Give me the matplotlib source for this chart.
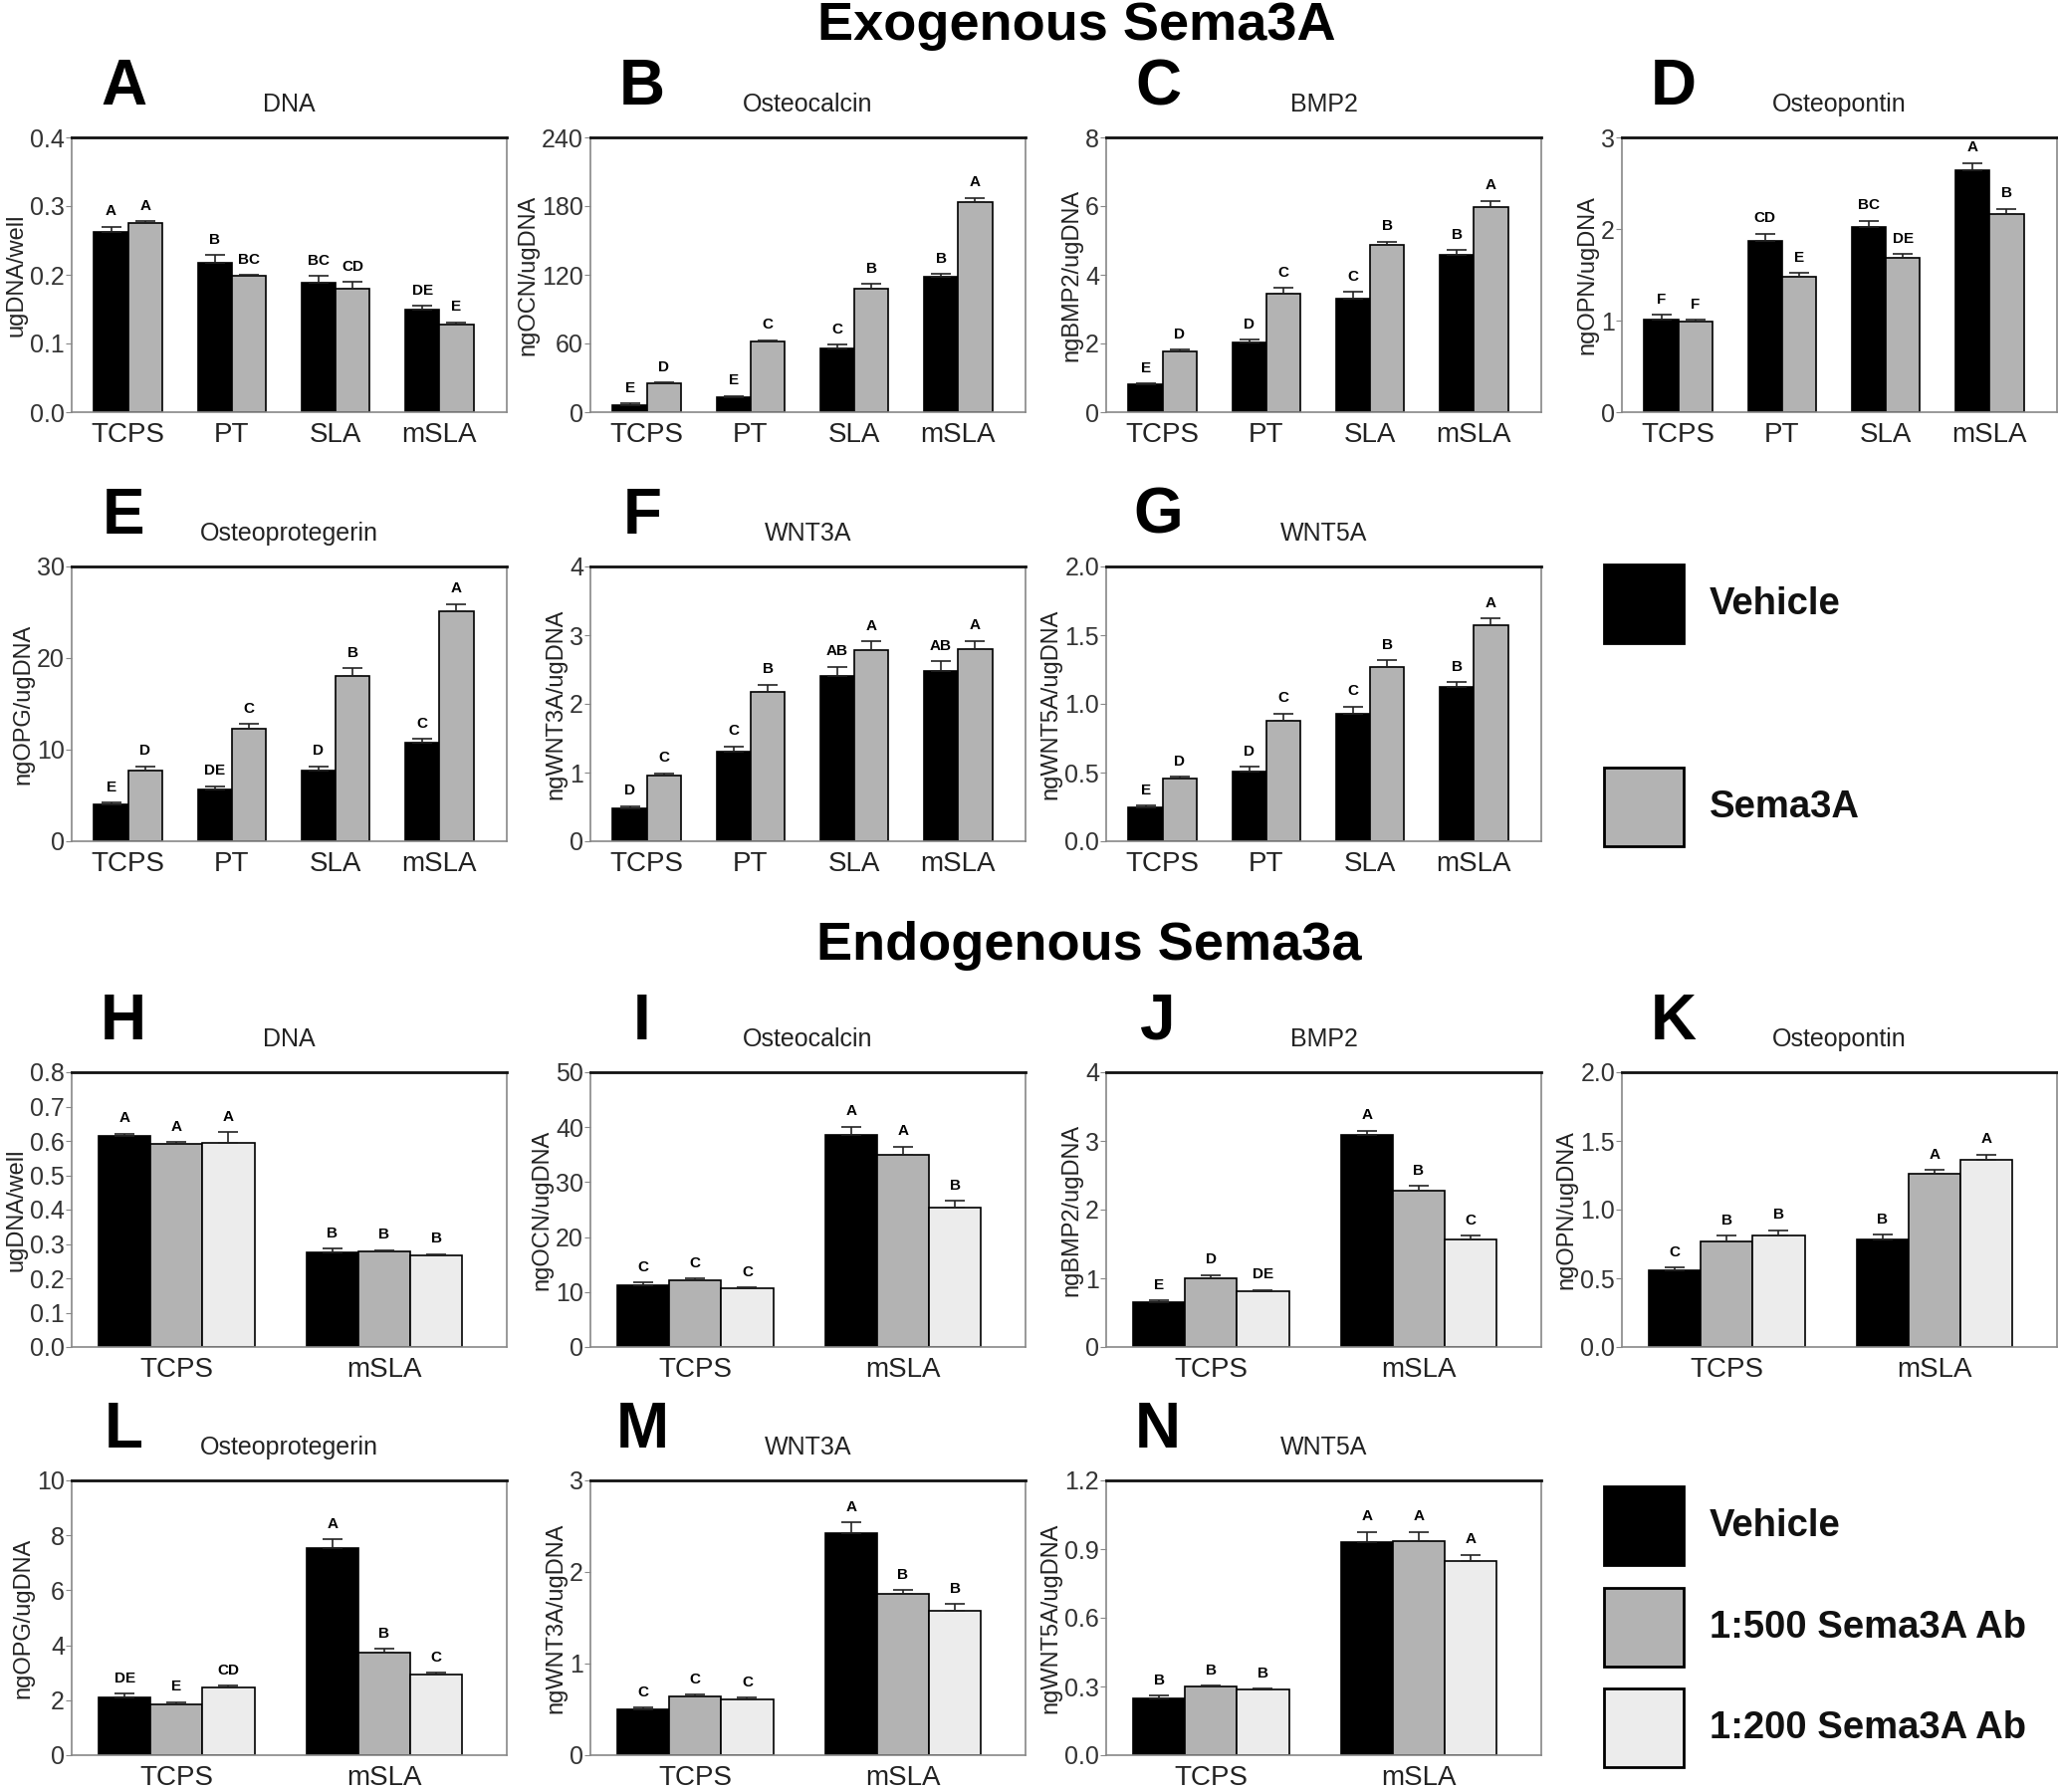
import numpy as np
import matplotlib
matplotlib.use("Agg")
import matplotlib.pyplot as plt
from matplotlib.patches import Rectangle

plt.rcParams['font.family'] = ['Liberation Sans', 'DejaVu Sans']

exo_groups = ["TCPS", "PT", "SLA", "mSLA"]
endo_groups = ["TCPS", "mSLA"]
exo_names = ["Vehicle", "Sema3A"]
endo_names = ["Vehicle", "1:500 Sema3A Ab", "1:200 Sema3A Ab"]

# exogenous panels: rows = vehicle, sema3A
a_vals = [[0.263, 0.217, 0.188, 0.149], [0.276, 0.198, 0.179, 0.128]]
a_errs = [[0.007, 0.012, 0.010, 0.006], [0.002, 0.002, 0.011, 0.003]]
a_sig = [["A", "B", "BC", "DE"], ["A", "BC", "CD", "E"]]

b_vals = [[6.5, 13.2, 55.5, 118.5], [25.5, 61.5, 107.5, 183.5]]
b_errs = [[0.9, 0.9, 3.5, 2.0], [0.6, 1.5, 4.4, 3.8]]
b_sig = [["E", "E", "C", "B"], ["D", "C", "B", "A"]]

c_vals = [[0.80, 2.02, 3.30, 4.57], [1.77, 3.46, 4.87, 5.98]]
c_errs = [[0.03, 0.10, 0.20, 0.15], [0.05, 0.15, 0.10, 0.17]]
c_sig = [["E", "D", "C", "B"], ["D", "C", "B", "A"]]

d_vals = [[1.01, 1.87, 2.02, 2.64], [0.99, 1.48, 1.68, 2.16]]
d_errs = [[0.05, 0.08, 0.07, 0.08], [0.02, 0.04, 0.05, 0.06]]
d_sig = [["F", "CD", "BC", "A"], ["F", "E", "DE", "B"]]

e_vals = [[4.0, 5.7, 7.7, 10.8], [7.7, 12.3, 18.0, 25.1]]
e_errs = [[0.2, 0.3, 0.5, 0.4], [0.5, 0.5, 0.9, 0.8]]
e_sig = [["E", "DE", "D", "C"], ["D", "C", "B", "A"]]

f_vals = [[0.48, 1.30, 2.40, 2.48], [0.96, 2.17, 2.78, 2.80]]
f_errs = [[0.03, 0.08, 0.14, 0.14], [0.03, 0.11, 0.13, 0.12]]
f_sig = [["D", "C", "AB", "AB"], ["C", "B", "A", "A"]]

g_vals = [[0.25, 0.51, 0.93, 1.12], [0.46, 0.88, 1.27, 1.57]]
g_errs = [[0.01, 0.03, 0.05, 0.04], [0.01, 0.05, 0.05, 0.05]]
g_sig = [["E", "D", "C", "B"], ["D", "C", "B", "A"]]

# endogenous panels: rows = vehicle, 1:500 Ab, 1:200 Ab
h_vals = [[0.615, 0.275], [0.592, 0.277], [0.595, 0.266]]
h_errs = [[0.006, 0.012], [0.004, 0.005], [0.030, 0.005]]
h_sig = [["A", "B"], ["A", "B"], ["A", "B"]]

i_vals = [[11.3, 38.6], [12.2, 35.0], [10.6, 25.4]]
i_errs = [[0.4, 1.5], [0.3, 1.5], [0.2, 1.2]]
i_sig = [["C", "A"], ["C", "A"], ["C", "B"]]

j_vals = [[0.65, 3.08], [1.00, 2.27], [0.81, 1.57]]
j_errs = [[0.03, 0.07], [0.05, 0.08], [0.02, 0.05]]
j_sig = [["E", "A"], ["D", "B"], ["DE", "C"]]

k_vals = [[0.56, 0.78], [0.77, 1.26], [0.81, 1.36]]
k_errs = [[0.02, 0.04], [0.04, 0.03], [0.04, 0.04]]
k_sig = [["C", "B"], ["B", "A"], ["B", "A"]]

l_vals = [[2.10, 7.55], [1.85, 3.72], [2.45, 2.95]]
l_errs = [[0.15, 0.30], [0.08, 0.15], [0.07, 0.06]]
l_sig = [["DE", "A"], ["E", "B"], ["CD", "C"]]

m_vals = [[0.50, 2.42], [0.64, 1.76], [0.61, 1.58]]
m_errs = [[0.02, 0.12], [0.02, 0.04], [0.02, 0.07]]
m_sig = [["C", "A"], ["C", "B"], ["C", "B"]]

n_vals = [[0.25, 0.93], [0.30, 0.935], [0.285, 0.85]]
n_errs = [[0.01, 0.045], [0.005, 0.04], [0.005, 0.025]]
n_sig = [["B", "A"], ["B", "A"], ["B", "A"]]

colors = ["#000000", "#b3b3b3", "#ececec"]

W, H = 2067, 1800
fig = plt.figure(figsize=(W / 100, H / 100), dpi=100)

col_left = [72, 593, 1111, 1629]
row_top = [138, 569, 1077, 1487]
ax_w, ax_h = 437, 276


def ftext(x, y, s, **kw):
    fig.text(x / W, 1 - y / H, s, **kw)


def panel(col, row, letter, title, ylabel, groups, vals, errs, sig, ymax, ystep, fmt):
    left, top = col_left[col], row_top[row]
    ax = fig.add_axes([left / W, 1 - (top + ax_h) / H, ax_w / W, ax_h / H])
    n = len(vals)
    x = np.arange(len(groups))
    if n == 2:
        width = 0.33
        ax.set_xlim(-0.545, len(groups) - 0.35)
    else:
        width = 0.25
        ax.set_xlim(-0.505, len(groups) - 0.41)
    for i in range(n):
        pos = x + (i - (n - 1) / 2) * width
        ax.bar(pos, vals[i], width, color=colors[i], edgecolor="black",
               linewidth=1.2, zorder=2)
        ax.errorbar(pos, vals[i], yerr=[np.zeros(len(groups)), errs[i]],
                    fmt="none", ecolor="#222222", elinewidth=1.2, capsize=7,
                    capthick=1.2, zorder=3)
        for p, v, e, s in zip(pos, vals[i], errs[i], sig[i]):
            ax.annotate(s, (p, v + e), xytext=(0, 6), textcoords="offset points",
                        ha="center", va="bottom", fontsize=11, fontweight="bold")
    ax.set_ylim(0, ymax)
    ticks = np.arange(0, ymax + ystep / 2, ystep)
    ax.set_yticks(ticks)
    ax.set_yticklabels([fmt.format(t) for t in ticks])
    ax.set_xticks(x)
    ax.set_xticklabels(groups)
    ax.tick_params(axis="y", direction="out", length=4, color="#888888",
                   labelsize=18, labelcolor="#333333", pad=1)
    ax.tick_params(axis="x", length=0, labelsize=20, labelcolor="#222222", pad=7)
    ax.set_ylabel(ylabel, fontsize=17, color="#222222", labelpad=2)
    for side in ["left", "bottom", "right"]:
        ax.spines[side].set_color("#888888")
        ax.spines[side].set_linewidth(1.2)
    ax.spines["top"].set_color("#111111")
    ax.spines["top"].set_linewidth(2)
    ftext(left + 52, top - 50, letter, fontsize=46, fontweight="bold",
          ha="center", va="center")
    ftext(left + ax_w / 2, top - 33, title, fontsize=18, ha="center", va="center",
          color="#222222")
    return ax


panel(0, 0, "A", "DNA", "ugDNA/well", exo_groups, a_vals, a_errs, a_sig, 0.4, 0.1, "{:.1f}")
panel(1, 0, "B", "Osteocalcin", "ngOCN/ugDNA", exo_groups, b_vals, b_errs, b_sig, 240, 60, "{:.0f}")
panel(2, 0, "C", "BMP2", "ngBMP2/ugDNA", exo_groups, c_vals, c_errs, c_sig, 8, 2, "{:.0f}")
panel(3, 0, "D", "Osteopontin", "ngOPN/ugDNA", exo_groups, d_vals, d_errs, d_sig, 3, 1, "{:.0f}")
panel(0, 1, "E", "Osteoprotegerin", "ngOPG/ugDNA", exo_groups, e_vals, e_errs, e_sig, 30, 10, "{:.0f}")
panel(1, 1, "F", "WNT3A", "ngWNT3A/ugDNA", exo_groups, f_vals, f_errs, f_sig, 4, 1, "{:.0f}")
panel(2, 1, "G", "WNT5A", "ngWNT5A/ugDNA", exo_groups, g_vals, g_errs, g_sig, 2.0, 0.5, "{:.1f}")

panel(0, 2, "H", "DNA", "ugDNA/well", endo_groups, h_vals, h_errs, h_sig, 0.8, 0.1, "{:.1f}")
panel(1, 2, "I", "Osteocalcin", "ngOCN/ugDNA", endo_groups, i_vals, i_errs, i_sig, 50, 10, "{:.0f}")
panel(2, 2, "J", "BMP2", "ngBMP2/ugDNA", endo_groups, j_vals, j_errs, j_sig, 4, 1, "{:.0f}")
panel(3, 2, "K", "Osteopontin", "ngOPN/ugDNA", endo_groups, k_vals, k_errs, k_sig, 2.0, 0.5, "{:.1f}")
panel(0, 3, "L", "Osteoprotegerin", "ngOPG/ugDNA", endo_groups, l_vals, l_errs, l_sig, 10, 2, "{:.0f}")
panel(1, 3, "M", "WNT3A", "ngWNT3A/ugDNA", endo_groups, m_vals, m_errs, m_sig, 3, 1, "{:.0f}")
panel(2, 3, "N", "WNT5A", "ngWNT5A/ugDNA", endo_groups, n_vals, n_errs, n_sig, 1.2, 0.3, "{:.1f}")

ftext(1081, 26, "Exogenous Sema3A", fontsize=39, fontweight="bold", ha="center", va="center")
ftext(1094, 950, "Endogenous Sema3a", fontsize=39, fontweight="bold", ha="center", va="center")


def legend_entry(y_top, name, color):
    fig.patches.append(Rectangle((1611 / W, 1 - (y_top + 79) / H), 80 / W, 79 / H,
                                 transform=fig.transFigure, facecolor=color,
                                 edgecolor="black", linewidth=2))
    ftext(1717, y_top + 40, name, fontsize=27.5, fontweight="bold", ha="left",
          va="center", color="#111111")


for y_top, name, color in zip([567, 771], exo_names, colors):
    legend_entry(y_top, name, color)
for y_top, name, color in zip([1493, 1595, 1696], endo_names, colors):
    legend_entry(y_top, name, color)

fig.savefig("out.png", dpi=100)
